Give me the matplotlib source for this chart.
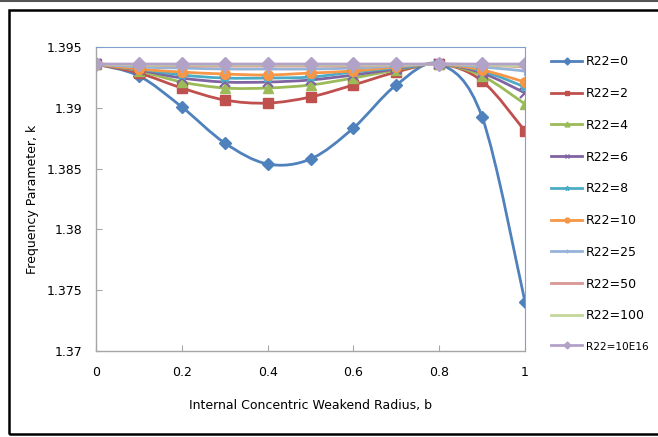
import matplotlib
matplotlib.use("Agg")
import matplotlib.pyplot as plt
import numpy as np
from matplotlib.path import Path
from matplotlib.patches import PathPatch, Rectangle
from matplotlib.lines import Line2D

plt.rcParams['font.family'] = ['DejaVu Sans']

b = [0, 0.1, 0.2, 0.3, 0.4, 0.5, 0.6, 0.7, 0.8, 0.9, 1.0]

r0 = [1.3936, 1.39262, 1.39007, 1.38711, 1.38538, 1.38579, 1.38834, 1.39188, 1.3936, 1.38924, 1.37403]
r2 = [1.3936, 1.39286, 1.39163, 1.39064, 1.39039, 1.39089, 1.39188, 1.39294, 1.3936, 1.39220, 1.38809]
r4 = [1.3936, 1.39303, 1.39212, 1.39163, 1.39163, 1.39188, 1.39245, 1.39311, 1.3936, 1.39262, 1.39031]
r6 = [1.3936, 1.39311, 1.39245, 1.39212, 1.39212, 1.39229, 1.39270, 1.39319, 1.3936, 1.39286, 1.39122]
r8 = [1.3936, 1.39319, 1.39270, 1.39245, 1.39245, 1.39253, 1.39294, 1.39327, 1.3936, 1.39303, 1.39171]
r10 = [1.3936, 1.39319, 1.39294, 1.39278, 1.39270, 1.39286, 1.39303, 1.39336, 1.3936, 1.39311, 1.39212]
r25 = [1.3936, 1.39336, 1.39327, 1.39319, 1.39319, 1.39319, 1.39327, 1.39344, 1.3936, 1.39336, 1.39303]
r50 = [1.3936, 1.39352, 1.39344, 1.39344, 1.39344, 1.39344, 1.39344, 1.39352, 1.3936, 1.39352, 1.39336]
r100 = [1.3936, 1.39352, 1.39352, 1.39352, 1.39352, 1.39352, 1.39352, 1.39352, 1.3936, 1.39352, 1.39344]
rinf = [1.3936, 1.3936, 1.3936, 1.3936, 1.3936, 1.3936, 1.3936, 1.3936, 1.3936, 1.3936, 1.3936]

labels = ['R22=0', 'R22=2', 'R22=4', 'R22=6', 'R22=8', 'R22=10',
          'R22=25', 'R22=50', 'R22=100', 'R22=10E16']
series = [r0, r2, r4, r6, r8, r10, r25, r50, r100, rinf]

colors = ['#4F81BD', '#C0504D', '#9BBB59', '#8064A2', '#4BACC6', '#F79646',
          '#95B3D7', '#D99694', '#C3D69B', '#B3A2C7']
markers = ['D', 's', '^', 'x', '*', 'o', '+', None, None, 'D']
msizes = [6, 7.5, 7.5, 7, 7, 7, 7, 0, 0, 7]

yticks = [1.37, 1.375, 1.38, 1.385, 1.39, 1.395]
ytick_labels = ['1.37', '1.375', '1.38', '1.385', '1.39', '1.395']
xticks = [0, 0.2, 0.4, 0.6, 0.8, 1]
xtick_labels = ['0', '0.2', '0.4', '0.6', '0.8', '1']


def smooth_path(x, y):
    # Excel-style smoothed line: Catmull-Rom converted to cubic Bezier segments
    pts = np.column_stack([x, y])
    n = len(pts)
    verts = [pts[0]]
    codes = [Path.MOVETO]
    for i in range(n - 1):
        p0 = pts[i - 1] if i > 0 else pts[i]
        p1 = pts[i]
        p2 = pts[i + 1]
        p3 = pts[i + 2] if i + 2 < n else pts[i + 1]
        c1 = p1 + (p2 - p0) / 6.0
        c2 = p2 - (p3 - p1) / 6.0
        verts += [c1, c2, p2]
        codes += [Path.CURVE4] * 3
    return Path(verts, codes)


fig = plt.figure(figsize=(6.58, 4.37), dpi=100)
ax = fig.add_axes([0.1459, 0.1968, 0.652, 0.6956])

handles = []
for vals, lab, col, mk, ms in zip(series, labels, colors, markers, msizes):
    patch = PathPatch(smooth_path(b, vals), facecolor='none', edgecolor=col,
                      linewidth=2.0, capstyle='round', joinstyle='round')
    ax.add_patch(patch)
    if mk is not None:
        mew = 1.6 if mk in ('x', '+', '*') else 1.0
        ax.plot(b, vals, linestyle='none', marker=mk, markersize=ms,
                color=col, markeredgecolor=col, markeredgewidth=mew)
    handles.append(Line2D([], [], color=col, linewidth=2.0, marker=mk,
                          markersize=3.5, markeredgewidth=1.0))

ax.set_xlim(0, 1)
ax.set_ylim(1.37, 1.395)
ax.set_xticks(xticks)
ax.set_xticklabels(xtick_labels, fontsize=9)
ax.set_yticks(yticks)
ax.set_yticklabels(ytick_labels, fontsize=9)
ax.tick_params(direction='in', length=4, width=0.8, color='#a6a6a6')
ax.tick_params(axis='x', pad=11)
ax.tick_params(axis='y', pad=10)

for side in ('left', 'bottom'):
    ax.spines[side].set_color('#a6a6a6')
    ax.spines[side].set_linewidth(1.0)
for side in ('top', 'right'):
    ax.spines[side].set_color('#7f9fcf')
    ax.spines[side].set_linewidth(0.8)

ax.set_xlabel('Internal Concentric Weakend Radius, b', fontsize=9, labelpad=14)
ax.set_ylabel('Frequency Parameter, k', fontsize=9, labelpad=5)

leg = fig.legend(handles, labels, loc='upper left', bbox_to_anchor=(0.830, 0.885),
                 frameon=False, fontsize=9, handlelength=2.5, handletextpad=0.3,
                 labelspacing=1.5, borderaxespad=0)
# the longest label is squeezed in the original so it stays inside the frame
leg.get_texts()[-1].set_fontsize(7.6)

# outer frame around the chart
fig.patches.append(Rectangle((9 / 658, 3 / 437), 1.0, 424 / 437,
                             transform=fig.transFigure, fill=False,
                             edgecolor='black', linewidth=1.8))
fig.add_artist(Line2D([0, 1], [1 - 1 / 437, 1 - 1 / 437], transform=fig.transFigure,
                      color='#555555', linewidth=1.5))

fig.savefig('out.png', dpi=100)
